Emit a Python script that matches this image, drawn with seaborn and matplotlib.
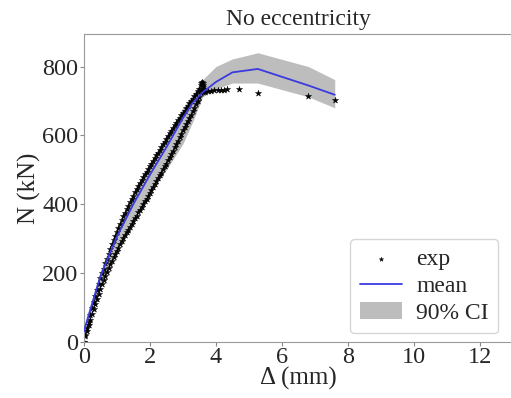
import matplotlib
matplotlib.use("Agg")
import matplotlib.pyplot as plt
import seaborn as sns
import pandas as pd

# experimental data: upper branch, lower branch, peak cluster and post-peak points
exp_up_x = [0.0, 0.05, 0.1, 0.15, 0.2, 0.25, 0.3, 0.35, 0.4, 0.45, 0.5, 0.55, 0.6, 0.65, 0.7, 0.75,
            0.8, 0.85, 0.9, 0.95, 1.0, 1.05, 1.1, 1.15, 1.2, 1.25, 1.3, 1.35, 1.4, 1.45, 1.5, 1.55,
            1.6, 1.65, 1.7, 1.75, 1.8, 1.85, 1.9, 1.95, 2.0, 2.05, 2.1, 2.15, 2.2, 2.25, 2.3, 2.35,
            2.4, 2.45, 2.5, 2.55, 2.6, 2.65, 2.7, 2.75, 2.8, 2.85, 2.9, 2.95, 3.0, 3.05, 3.1, 3.15,
            3.2, 3.25, 3.3, 3.35, 3.4, 3.45, 3.5, 3.55, 3.6]
exp_up_y = [0, 20, 40, 59, 78, 97, 115, 133, 150, 168, 185, 199, 213, 228, 242, 256,
            270, 283, 296, 308, 320, 332, 343, 354, 365, 375, 385, 395, 405, 415, 425, 435,
            444, 453, 462, 471, 479, 487, 495, 503, 510, 518, 526, 534, 542, 550, 558, 566,
            574, 582, 590, 598, 606, 614, 622, 630, 637, 644, 651, 658, 665, 672, 679, 686,
            693, 700, 707, 714, 721, 728, 735, 745, 752]
exp_lo_x = [0.0, 0.05, 0.1, 0.15, 0.2, 0.25, 0.3, 0.35, 0.4, 0.45, 0.5, 0.55, 0.6, 0.65, 0.7, 0.75,
            0.8, 0.85, 0.9, 0.95, 1.0, 1.05, 1.1, 1.15, 1.2, 1.25, 1.3, 1.35, 1.4, 1.45, 1.5, 1.55,
            1.6, 1.65, 1.7, 1.75, 1.8, 1.85, 1.9, 1.95, 2.0, 2.05, 2.1, 2.15, 2.2, 2.25, 2.3, 2.35,
            2.4, 2.45, 2.5, 2.55, 2.6, 2.65, 2.7, 2.75, 2.8, 2.85, 2.9, 2.95, 3.0, 3.05, 3.1, 3.15,
            3.2, 3.25, 3.3, 3.35, 3.4, 3.45, 3.5, 3.55, 3.6]
exp_lo_y = [0, 16, 32, 48, 64, 80, 95, 110, 125, 140, 155, 168, 180, 192, 204, 215,
            226, 236, 246, 256, 265, 274, 283, 292, 301, 310, 318, 326, 334, 342, 350, 359,
            367, 376, 384, 392, 400, 408, 416, 424, 432, 441, 449, 458, 466, 475, 484, 492,
            501, 510, 518, 527, 536, 546, 555, 565, 575, 585, 595, 605, 615, 624, 633, 642,
            651, 660, 670, 680, 690, 701, 712, 723, 735]
exp_peak_x = [3.55, 3.57, 3.58, 3.6, 3.62, 3.6, 3.63]
exp_peak_y = [752, 730, 755, 740, 745, 725, 735]
exp_post_x = [3.68, 3.75, 3.85, 3.95, 4.05, 4.15, 4.25, 4.35, 4.7, 5.27, 6.8, 7.62]
exp_post_y = [726, 728, 730, 731, 732, 733, 733, 734, 734, 724, 714, 704]

mean_x = [0.0, 0.5, 1.0, 1.5, 2.0, 2.5, 3.0, 3.3, 3.6, 4.0, 4.5, 5.27, 6.8, 7.6]
mean_y = [30, 190, 305, 400, 485, 565, 650, 695, 725, 755, 783, 793, 745, 718]
ci_hi = [45, 205, 330, 435, 520, 600, 680, 720, 762, 800, 822, 840, 800, 762]
ci_lo = [0, 165, 270, 355, 430, 500, 575, 640, 712, 735, 752, 752, 712, 680]

sns.set_style("white")
plt.rcParams['font.family'] = ['Liberation Serif', 'DejaVu Serif']

fig = plt.figure(figsize=(5.11, 3.98), dpi=100)
ax = fig.add_axes([0.164, 0.141, 0.84, 0.774])

exp_df = pd.DataFrame({"x": exp_up_x + exp_lo_x + exp_peak_x + exp_post_x,
                       "y": exp_up_y + exp_lo_y + exp_peak_y + exp_post_y})
mean_df = pd.DataFrame({"x": mean_x, "y": mean_y})

ax.fill_between(mean_x, ci_lo, ci_hi, color="#bdbdbd", alpha=1.0, linewidth=0, label="90% CI", zorder=1)
sns.lineplot(data=mean_df, x="x", y="y", ax=ax, color="#3a3adf", linewidth=1.3, label="mean", zorder=3)
sns.scatterplot(data=exp_df, x="x", y="y", ax=ax, marker="*", s=22, color="black",
                edgecolor="black", linewidth=0.3, label="exp", zorder=2)

ax.set_xlim(0, 13)
ax.set_ylim(0, 895)
ax.set_xticks([0, 2, 4, 6, 8, 10, 12])
ax.set_yticks([0, 200, 400, 600, 800])
ax.tick_params(labelsize=17.5, length=3, direction="out", bottom=True, left=True, pad=1, color="#888888")
for s in ax.spines.values():
    s.set_color("#999999")
ax.set_xlabel("Δ (mm)", fontsize=18, labelpad=-1)
ax.set_ylabel("N (kN)", fontsize=18, labelpad=1)
ax.set_title("No eccentricity", fontsize=17, pad=6)

h, l = ax.get_legend_handles_labels()
order = [l.index("exp"), l.index("mean"), l.index("90% CI")]
ax.legend([h[i] for i in order], [l[i] for i in order], loc="lower right",
          bbox_to_anchor=(0.966, 0.028), borderaxespad=0, fontsize=17, frameon=True, markerscale=0.7,
          handlelength=1.8, labelspacing=0.22, borderpad=0.4, handletextpad=0.6)

fig.savefig("out.png", dpi=100)
